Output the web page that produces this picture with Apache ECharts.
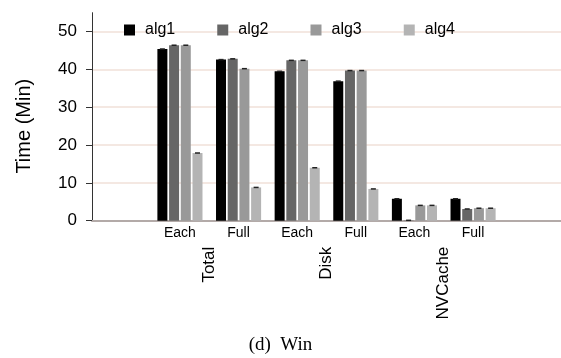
<!DOCTYPE html>
<html>
<head>
<meta charset="utf-8">
<script src="https://cdn.jsdelivr.net/npm/echarts@6/dist/echarts.min.js"></script>
<style>html,body{margin:0;padding:0;background:#fff}#c{width:561px;height:358px}</style>
</head>
<body>
<div id="c"></div>
<script>
const categories = ['', 'Each', 'Full', 'Each', 'Full', 'Each', 'Full', ''];
const groupLabels = ['', 'Total', 'Disk', 'NVCache', ''];
const seriesNames = ['alg1', 'alg2', 'alg3', 'alg4'];
const alg1 = [null, 45.4, 42.6, 39.5, 36.9, 5.8, 5.8, null];
const alg2 = [null, 46.4, 42.8, 42.4, 39.7, 0.1, 3.1, null];
const alg3 = [null, 46.4, 40.2, 42.4, 39.7, 4.05, 3.3, null];
const alg4 = [null, 17.9, 8.8, 14.0, 8.4, 4.05, 3.3, null];
const yTicks = [0, 10, 20, 30, 40, 50];

const values = [alg1, alg2, alg3, alg4];
const colors = ['#000000', '#666666', '#999999', '#b4b4b4'];
const BAR_W = 10, GAP = 1.7;

const chart = echarts.init(document.getElementById('c'), null, {renderer: 'canvas'});

const series = [];
values.forEach((vals, i) => {
  series.push({
    name: seriesNames[i], type: 'bar', data: vals,
    barWidth: BAR_W, barGap: (GAP / BAR_W * 100) + '%',
    itemStyle: {color: colors[i]}, animation: false
  });
});
values.forEach((vals, i) => {
  series.push({
    type: 'custom', silent: true, animation: false, z: 5,
    data: vals.map((v, k) => v == null ? null : [k, v]).filter(d => d),
    renderItem: function (params, api) {
      const p = api.coord([api.value(0), api.value(1)]);
      const off = (i - 1.5) * (BAR_W + GAP);
      return {
        type: 'rect',
        shape: {x: p[0] + off - 2.5, y: p[1] - 0.75, width: 5, height: 1.5},
        style: {fill: '#222'}
      };
    }
  });
});

chart.setOption({
  animation: false,
  textStyle: {fontFamily: 'Liberation Sans, Arial, sans-serif'},
  title: {
    text: '(d)  Win', left: 'center', top: 331,
    textStyle: {fontFamily: 'Liberation Serif, Times New Roman, serif', fontSize: 19, fontWeight: 'normal', color: '#000'}
  },
  legend: {
    data: seriesNames, left: 124, top: 22, padding: 0, itemWidth: 11, itemHeight: 11, itemGap: 42,
    icon: 'rect',
    textStyle: {fontSize: 16, color: '#000', width: 30, padding: [0, 0, 0, 5]}
  },
  grid: {left: 92, right: 0, top: 12.7, bottom: 137.3, containLabel: false},
  xAxis: [{
    type: 'category', data: categories, boundaryGap: true,
    axisLine: {lineStyle: {color: '#b3aaa8', width: 2}},
    axisTick: {show: false},
    axisLabel: {fontSize: 14, color: '#000', margin: 5, interval: 0}
  }, {
    type: 'category', data: groupLabels, boundaryGap: false, position: 'bottom',
    axisLine: {show: false}, axisTick: {show: false}, splitLine: {show: false},
    axisLabel: {rotate: 90, fontSize: 17, color: '#000', margin: 26, interval: 0}
  }],
  yAxis: {
    type: 'value', min: 0, max: 55,
    name: 'Time (Min)', nameLocation: 'middle', nameRotate: 90, nameGap: 58,
    nameTextStyle: {fontSize: 20, color: '#000', padding: [0, 19, 0, 0]},
    axisLine: {show: true, lineStyle: {color: '#333', width: 1}},
    axisTick: {show: true, length: 6, lineStyle: {color: '#333'}, customValues: yTicks},
    axisLabel: {fontSize: 17, color: '#000', margin: 15, customValues: yTicks},
    splitLine: {show: true, lineStyle: {color: '#f0e0d8', width: 1.5}}
  },
  series: series
});
</script>
</body>
</html>
